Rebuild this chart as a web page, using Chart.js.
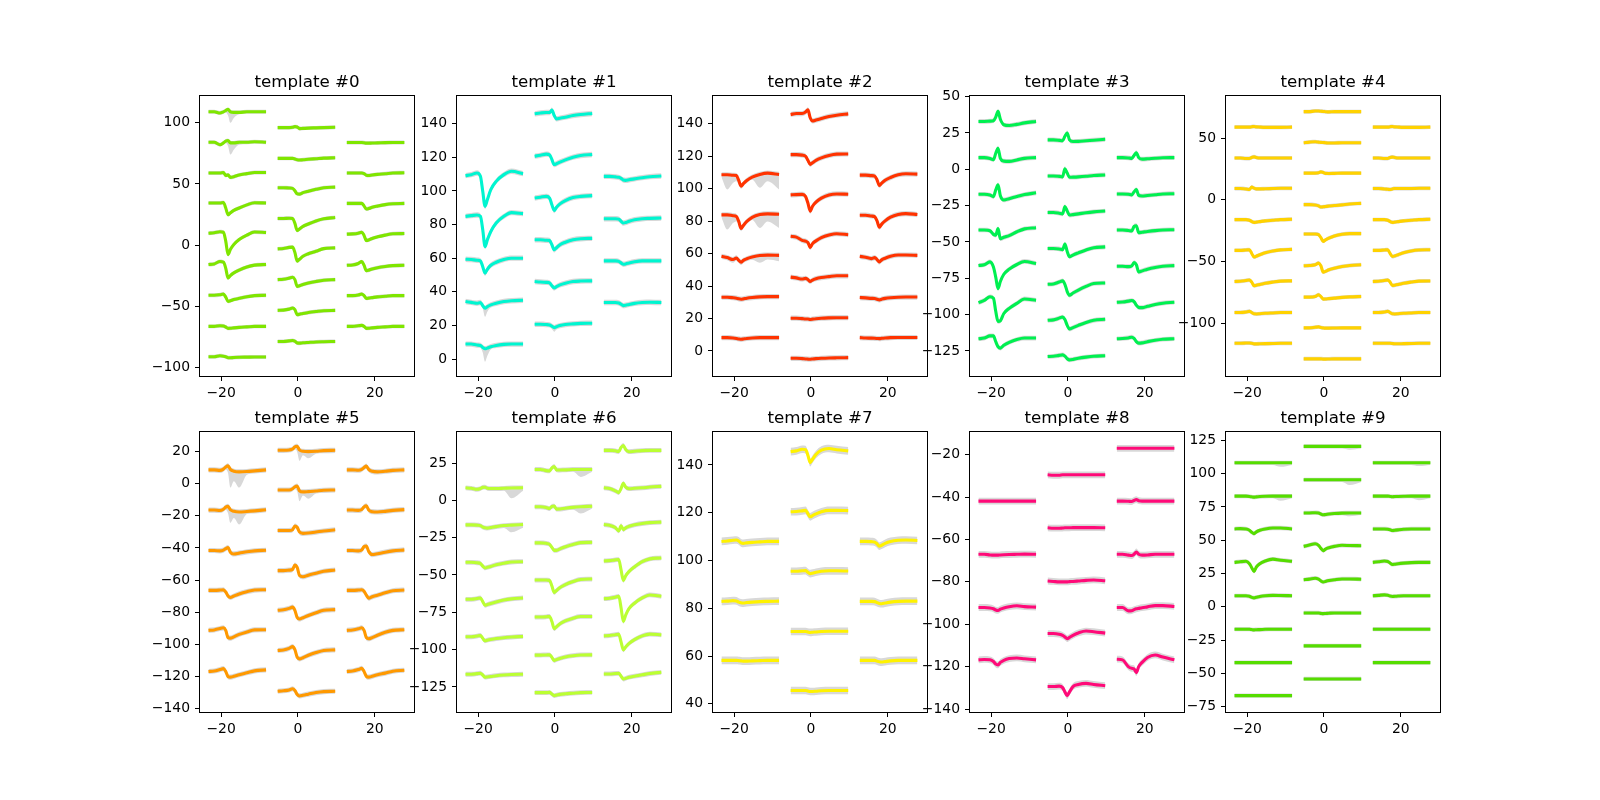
<!DOCTYPE html>
<html><head><meta charset="utf-8">
<script src="https://cdn.jsdelivr.net/npm/chart.js@4.4.0/dist/chart.umd.min.js"></script>
<style>
html,body{margin:0;padding:0;background:#fff;width:1600px;height:800px;overflow:hidden}
body{position:relative}
canvas{position:absolute}
</style></head><body>
<script>
// ---- data ----
const GRID = [0,1.5,3,3.9,4.5,5.1,5.7,6.6,8,10,12,15];   // sample offsets within one waveform
const COL_X0 = [-23.3,-5.3,12.7];                         // x of first sample for each electrode column
const TITLES = ['template #0','template #1','template #2','template #3','template #4','template #5','template #6','template #7','template #8','template #9'];
const COLORS = ['#7fe600','#00f5d0','#ff3300','#00f050','#ffd200','#ff9900','#bbff33','#fff200','#ff0a78','#55dd00'];
const X_TICKS = [-20,0,20];
const X_LIMITS = [-25.5,30.2];
const Y_TICKS = [
  [-100,-50,0,50,100],
  [0,20,40,60,80,100,120,140],
  [0,20,40,60,80,100,120,140],
  [-125,-100,-75,-50,-25,0,25,50],
  [-100,-50,0,50],
  [-140,-120,-100,-80,-60,-40,-20,0,20],
  [-125,-100,-75,-50,-25,0,25],
  [40,60,80,100,120,140],
  [-140,-120,-100,-80,-60,-40,-20],
  [-75,-50,-25,0,25,50,75,100,125]
];
const Y_LIMITS = [[-106.8,121.8],[-10.1,156.5],[-15.4,157],[-142.2,50.4],[-142.8,84.1],[-142.1,32.2],[-141.8,45.8],[36.6,153.8],[-141.4,-9.3],[-79,131.3]];

// each channel: [column, baseline, deviations at GRID, optional extra lower envelope of the grey spread]
const T0 = [
[0,108.9,[0,0,-1,0,1,2,0,-0.5,-0.5,0,0,0],[0,0,0,0,0,-3,-9,-5,-2,0,0,0]],
[0,84.0,[0,0,-2,-0.5,1,1.5,-0.5,-0.5,0,0,0.5,0],[0,0,0,0,0,-3,-10,-6,-2,0,0,0]],
[0,58.9,[0,0,0,0.5,-2,-1.5,-3.5,-3,-1.5,-0.5,0.5,0.5]],
[0,34.4,[0,0,0,0.5,-4,-9.5,-8,-6,-4,-1.5,0.3,0]],
[0,9.8,[0,0.3,1.2,0.8,-6.5,-17.5,-13.4,-9.3,-5.2,-1.6,1,0.5]],
[0,-15.8,[0,0.5,2.5,2,-3,-11,-9,-6.8,-4.5,-2,-0.5,0]],
[0,-40.9,[0,0,0.5,1,-1.5,-5,-4.5,-3.5,-2.5,-1.2,-0.3,0]],
[0,-66.3,[0,0,0.5,0.3,-0.5,-1.6,-1.5,-1.2,-0.8,-0.4,0,0]],
[0,-91.1,[0,0,0.8,0.5,0,-0.8,-0.8,-0.6,-0.4,-0.3,-0.2,-0.2]],
[1,96.0,[0,0,0,0.3,0.8,0.5,-0.8,-0.6,-0.4,-0.2,0,0.3]],
[1,70.9,[0,0,0,0,-0.5,-1.2,-1.4,-1.2,-0.8,-0.3,0.2,0.5]],
[1,46.9,[0,0,-0.2,-0.5,-2.5,-5,-5.2,-4,-2.8,-1.3,0,0.5]],
[1,21.8,[0,0,0.2,0,-4,-9.8,-8.5,-6.5,-4.5,-2,-0.3,0.8]],
[1,-3.0,[0,0.3,1.2,1.4,-3,-10,-8.5,-6,-4,-2,0.2,0.8]],
[1,-28.1,[0,0.3,1.2,1.9,0,-5.5,-5,-4,-2.8,-1.5,-0.5,0]],
[1,-53.2,[0,0.2,1,1.9,0.5,-3.5,-3.2,-2.5,-1.8,-1,-0.3,0]],
[1,-78.6,[0,0,0.5,0.8,0.2,-1.2,-1.4,-1.1,-0.8,-0.4,-0.2,0]],
[2,83.8,[0,0,0,0,-0.2,-0.5,-0.5,-0.4,-0.3,-0.1,0,0]],
[2,58.9,[0,0,0,0,-0.5,-1.8,-2,-1.6,-1.1,-0.6,0,0.2]],
[2,34.1,[0,0,0,0,-2,-4.6,-4.2,-3.2,-2.2,-1,-0.3,0]],
[2,9.0,[0,0.2,0.8,1.6,-1,-5.2,-4.8,-3.5,-2.2,-0.8,0.3,0.5]],
[2,-16.4,[0,0.3,1.5,3,0,-4.4,-4,-3,-2,-1,-0.3,0]],
[2,-41.2,[0,0,0.5,1.4,0,-2.2,-2,-1.6,-1,-0.5,0,0]],
[2,-66.3,[0,0,0.5,0.8,0,-1.6,-1.5,-1.2,-0.8,-0.4,0,0]]
];
const T1 = [
[0,109.1,[0,0.6,1.6,-0.4,-9.3,-18.3,-14.3,-8.3,-3.4,0.6,2.6,1.2]],
[0,84.9,[0,0.4,0.8,0,-8,-18,-14,-9,-4,0,2.2,1.6]],
[0,59.4,[0,-0.2,-0.6,-1,-4.5,-8.3,-6,-3.6,-1.8,-0.2,0.6,0.6]],
[0,34.2,[0,-0.5,-1,-0.6,-2.5,-4,-3,-2,-1,0,0.5,0.8],[0,0,0,0,-3,-9,-6,-3,0,0,0,0]],
[0,8.9,[0,0,-0.6,-0.8,-2,-2.8,-2.4,-1.6,-0.8,-0.2,0,0],[0,0,0,0,-5,-10.5,-7,-3,0,0,0,0]],
[1,145.9,[0,0.5,0.8,0.8,2.2,-1,-3,-2.6,-2,-1,-0.4,0.2]],
[1,120.7,[0,0.5,1.2,0.8,-2,-5,-4.5,-3.5,-2.2,-0.6,0.4,1]],
[1,95.8,[0,0.5,1,0,-4,-7.4,-5.5,-3.5,-1.5,0.3,1,1.4]],
[1,71.0,[0,0,-0.3,-0.5,-3,-6,-4.8,-3,-1.5,0,0.6,0.8]],
[1,46.1,[0,-0.3,-0.5,-0.8,-2.5,-3.8,-3,-2,-1,0,0.3,0.4]],
[1,20.7,[0,0,-0.2,-0.4,-1.2,-2,-1.5,-0.8,-0.2,0.2,0.5,0.6],[0,0,0,0,-2,-4.4,-3,0,0,0,0,0]],
[2,108.7,[0,0,-0.3,-0.6,-1.2,-2.2,-2.4,-2,-1.5,-0.8,-0.2,0.2]],
[2,83.5,[0,0,0,-0.3,-1.5,-2.6,-2.3,-1.5,-0.6,0,0.2,0.4]],
[2,58.4,[0,0,0,-0.3,-1.2,-2,-1.8,-1.2,-0.5,0,0,0]],
[2,33.6,[0,0,0,-0.3,-1,-1.8,-1.6,-1.1,-0.5,0,0.2,0]]
];
const T2 = [
[0,108.5,[0,0,-0.3,-0.5,-3.5,-7,-5.5,-3.5,-1.5,0.2,1,0.2],[-1,-9,-5,-4,-6,-8,-6,-4,-3,-8,-4,-9]],
[0,83.8,[0,0,-0.5,-1,-4,-8.4,-6.5,-4,-1.5,0.2,0.6,0.4],[-1,-9,-5,-4,-6,-9,-7,-4,-3,-8,-4,-8]],
[0,58.3,[0,-0.8,-2,-1,-2.5,-3.7,-2.5,-1.5,-0.5,0.5,0.7,0.6],[0,-2,-4,-2,-3,-4.5,-3,-2,-2,-4,-2,-3]],
[0,33.1,[0,0,-0.3,-0.6,-1,-1.2,-1,-0.6,-0.2,0.2,0.4,0.4]],
[0,8.2,[0,0,-0.2,-0.5,-0.8,-1,-0.8,-0.5,-0.2,0,0,0]],
[1,145.6,[0,0.6,0.6,1.5,2.9,-2,-4,-3.4,-2.5,-1.2,-0.4,0.4]],
[1,120.9,[0,0,-0.3,-1,-3.5,-6,-5,-3.5,-2,-0.5,0.3,0.4]],
[1,96.1,[0,0.2,0.3,-1,-5,-10,-7,-4.5,-2,0,0.6,0.4]],
[1,70.6,[0,-0.5,-2.5,-3,-3.8,-6.8,-4.5,-2.8,-0.8,0.8,1.6,1]],
[1,45.5,[0,-0.5,-1.2,-0.8,-1.5,-2.7,-1.8,-1,-0.3,0.3,0.8,0.8]],
[1,20.2,[0,0,-0.3,-0.5,-0.5,-0.8,-0.6,-0.3,0,0.2,0.3,0.3]],
[1,-4.5,[0,0,-0.2,-0.4,-0.5,-0.6,-0.4,-0.2,0,0.2,0.3,0.4]],
[2,108.3,[0,0,-0.3,-0.6,-3,-6.4,-5,-3.2,-1.5,0.2,0.8,0.6]],
[2,83.6,[0,0,-0.5,-1,-3.5,-7.4,-5.5,-3.5,-1.2,0.5,1,0.4]],
[2,58.3,[0,-0.6,-1.4,-0.8,-2,-3.5,-2.2,-1.2,0,0.8,0.8,0.6]],
[2,32.9,[0,-0.2,-0.5,-0.6,-1,-1.4,-1,-0.5,-0.1,0.2,0.3,0.3]],
[2,8.2,[0,-0.2,-0.3,-0.4,-0.5,-0.6,-0.4,-0.2,0,0.1,0.1,0.1]]
];
const T3 = [
[0,32.9,[0,0,0.2,0.5,3,6.9,1.5,-2.3,-2.8,-2,-1,0]],
[0,8.0,[0,0,-0.6,-1.4,3,6.5,-0.5,-2.4,-2.6,-1.6,-0.5,0]],
[0,-17.2,[0,0,-0.5,-1.6,3,6.5,-1,-3.9,-3,-1.5,-0.2,1]],
[0,-41.8,[0,0,-0.5,-3,-3.5,1,-6,-5,-3.8,-1.2,0.8,1.6]],
[0,-66.2,[0,0.5,2.5,-1,-8,-15.9,-11,-6,-2.5,0.7,2.8,1.4]],
[0,-91.7,[0,1.5,4,3,-6,-13,-12.5,-7.5,-4,-0.5,2.5,1.6]],
[0,-116.6,[0,0.5,2,2,-2,-5.5,-6.4,-4.5,-2.5,-0.5,0.5,0.5]],
[1,20.2,[0,0,-0.3,-0.6,2.5,4.8,0,-1.1,-1,-0.6,-0.2,0.4]],
[1,-4.6,[0,0,-0.3,-0.6,5,2,-0.9,-0.8,-0.6,-0.2,0.3,0.7]],
[1,-29.7,[0,0,-0.5,-1,4,1,-1.8,-1.5,-1,-0.2,0.4,1]],
[1,-54.5,[0,0,-0.3,-0.8,3,-2,-5.7,-4.5,-3,-1,0.5,1.1]],
[1,-79.1,[0,0.2,1.5,2.3,0,-5,-7.6,-6,-4,-1.5,0.5,0.9]],
[1,-103.9,[0,0.3,1.5,2.3,0.5,-3.5,-6,-5,-3.5,-1.5,0,0.7]],
[1,-128.8,[0,0.2,0.8,1.1,0.3,-1.5,-2.3,-2,-1.2,-0.4,0.2,0.5]],
[2,8.0,[0,0,-0.2,-0.5,1.5,3.4,0,-1,-0.8,-0.4,-0.1,0]],
[2,-17.0,[0,0,-0.2,-0.6,1.5,3,-1,-1.4,-1,-0.5,0,0.2]],
[2,-41.8,[0,0,-0.3,-0.6,2.5,3,-1.8,-1.5,-1,-0.4,0,0.2]],
[2,-66.7,[0,0,-0.3,0.2,2.5,1,-3.9,-3.2,-2,-0.8,0,0.4]],
[2,-91.5,[0,0.2,0.8,1.2,0.5,-2,-3.5,-3.7,-2.8,-1.5,-0.6,0]],
[2,-116.6,[0,0.2,0.6,1.1,0.3,-2,-3,-2.8,-2,-1,-0.3,0]]
];
const T4 = [
[0,58.9,[0,0,0,0,0.3,0.5,0.2,0,-0.2,-0.2,-0.2,0]],
[0,33.8,[0,0,-0.3,-0.3,0.5,1,0.5,0,0,0,0,0]],
[0,9.1,[0,0,-0.3,-0.8,1.2,0.3,-0.3,-0.3,-0.2,0,0.2,0.2]],
[0,-16.1,[0,0,0,-0.5,-1.5,-2.2,-2,-1.6,-1,-0.5,0,0.3]],
[0,-41.0,[0,0,0.3,0.5,-2.5,-5.4,-4.7,-3.6,-2,-0.5,0.4,0.8]],
[0,-66.2,[0,0.2,0.8,1.2,-0.5,-3.5,-3,-2.5,-1.5,-0.5,0.3,0.5]],
[0,-91.4,[0,0,0.5,1,0,-1,-1.1,-0.9,-0.6,-0.3,0,0]],
[0,-116.3,[0,0,0.2,0.3,0,-0.5,-0.5,-0.4,-0.3,-0.2,0,0]],
[1,71.4,[0,0,0.5,0.5,0.3,0.2,0,-0.2,0,0,0,0]],
[1,46.2,[0,0.5,0.8,0.5,0.3,0.2,0,-0.2,-0.2,0,0,0]],
[1,21.6,[0,0,0,0.3,1,0.5,-0.2,-0.3,-0.2,0,0,0]],
[1,-3.9,[0,0,-0.3,-1,-2,-1.8,-1.5,-1.2,-0.8,-0.2,0.5,1]],
[1,-27.7,[0,0,0,-0.5,-3,-6,-4.8,-3.3,-1.6,-0.2,0.3,0.3]],
[1,-53.5,[0,0.2,0.8,2.2,0,-5.1,-4.5,-3.2,-2,-0.6,0.3,0.8]],
[1,-78.9,[0,0,0.5,1.9,0.5,-1.6,-1.5,-1.2,-0.8,-0.2,0.2,0.5]],
[1,-103.8,[0,0,0.5,0.8,0.3,0,-0.2,-0.2,-0.1,0,0,0]],
[1,-128.9,[0,0,0,0,0,-0.2,-0.2,-0.1,0,0,0,0]],
[2,58.9,[0,0,0,0,0.3,0.5,0.2,0,-0.2,-0.2,-0.2,0]],
[2,33.8,[0,0,-0.3,-0.3,0.5,0.8,0.5,0,0,0,0,0]],
[2,9.1,[0,0,-0.3,-0.6,-0.8,-0.3,0,0,0,0,0.2,0.2]],
[2,-16.1,[0,0,0,-0.5,-1.5,-2.2,-2,-1.6,-1,-0.5,0,0.3]],
[2,-41.0,[0,0,0.3,0.5,-2.5,-5,-4.5,-3.5,-2,-0.5,0.3,0.5]],
[2,-66.2,[0,0.2,0.8,1.2,-0.5,-3.2,-3,-2.5,-1.5,-0.5,0.3,0.4]],
[2,-91.4,[0,0,0.5,1,0,-1,-1.1,-0.9,-0.6,-0.3,0,0]],
[2,-116.3,[0,0,0,0,0,-0.2,-0.4,-0.4,-0.3,-0.2,0,0]]
];
const T5 = [
[0,8.6,[0,0,-0.3,0.5,1.8,2.6,0.3,-0.8,-1.2,-1,-0.6,0],[0,0,0,0,0,-2,-11,-7,-11,-3,0,0]],
[0,-16.4,[0,0,-0.3,0.5,1.8,2.3,0.2,-0.8,-1.2,-0.9,-0.5,0.2],[0,0,0,0,0,-2,-8,-5,-9,-2,0,0]],
[0,-41.6,[0,0,-0.2,0.3,1.2,1.8,-1,-2.1,-1.6,-0.8,-0.2,0.2]],
[0,-66.4,[0,0,0.2,0.4,-1,-3.5,-4.4,-3.5,-2.2,-0.8,0.2,0.4]],
[0,-91.3,[0,0.3,1.2,1.6,0,-4.5,-4.8,-4,-2.5,-1,0.3,0.4]],
[0,-116.9,[0,0.3,1.2,1.8,0,-3.2,-3.5,-3,-2,-0.8,0.4,1]],
[1,20.8,[0,0,0.2,0.8,2.2,2.5,0.2,-0.6,-0.8,-0.6,-0.2,0],[0,0,0,0,0,-1,-6.5,-3,-5,-1,0,0]],
[1,-3.9,[0,0,0,0.8,2,2.5,-0.5,-1.2,-1,-0.6,-0.2,0],[0,0,0,0,0,-1,-7,-3.5,-5.5,-1,0,0]],
[1,-29.1,[0,0,0,0.5,2.8,2,-1,-1.8,-1.6,-1,-0.3,0.4],[0,0,0,0,0,0,-2,-2,-3,-1,0,0]],
[1,-54.1,[0,0,0.3,0.8,3.5,2,-3,-3.8,-2.8,-1.6,-0.4,0.4]],
[1,-78.8,[0,0.3,1.2,2,0,-4.5,-5.4,-4.6,-3.2,-1.5,0,0.4]],
[1,-103.8,[0,0.3,1.3,2.4,0.5,-4.2,-5.2,-4.5,-3,-1.3,0,0.4]],
[1,-129.2,[0,0.3,0.8,1.6,0.5,-2,-2.9,-2.5,-1.8,-0.8,-0.2,0]],
[2,8.6,[0,0,-0.2,0.3,1.5,2.4,0.3,-0.9,-1.2,-0.8,-0.3,0]],
[2,-16.4,[0,0,-0.2,0.3,2,2.7,0,-1,-1.2,-0.8,-0.2,0.3]],
[2,-41.6,[0,0,-0.2,0.3,2.5,2.8,-0.5,-2.5,-2,-1,-0.2,0.4]],
[2,-66.4,[0,0,0.2,0.4,-0.5,-3,-4.8,-4,-3,-1.5,-0.2,0.2]],
[2,-91.3,[0,0.3,1,1.6,0,-4.5,-5.2,-4.5,-3,-1.2,0,0.4]],
[2,-116.9,[0,0.3,1.2,2,0,-3,-3.5,-3,-2,-1,0.2,0.8]]
];
const T6 = [
[0,8.4,[0,-0.3,-1,-0.5,0.3,0.4,-0.3,-0.5,-0.5,-0.3,-0.1,0],[0,0,0,0,0,0,0,0,0,-1,-7,-2]],
[0,-16.4,[0,0,-0.2,-0.5,-1.5,-2,-2.2,-1.8,-1.2,-0.5,-0.2,0.2],[0,0,0,0,0,0,0,0,0,-1,-5,-2]],
[0,-41.5,[0,0,-0.3,-0.8,-2.5,-3.8,-3.4,-2.8,-1.6,-0.6,0.2,0.4]],
[0,-66.3,[0,0,0.5,0.9,-1.5,-4,-3.5,-2.8,-1.8,-0.5,0.3,0.9]],
[0,-91.4,[0,0,0.5,0.9,-1,-2.7,-2.3,-1.8,-1.2,-0.6,-0.2,0.2]],
[0,-116.5,[0,0,0.4,0.7,-0.5,-2,-1.8,-1.5,-1,-0.5,-0.2,0]],
[1,20.7,[0,0,-0.8,-1,1,2,-0.3,-0.4,-0.3,0,0,0],[0,0,0,0,0,0,0,0,0,-1,-5,-1]],
[1,-4.3,[0,0,-0.5,-1.2,0.3,0.5,-1.6,-1.5,-1,-0.4,0,0.4],[0,0,0,0,0,0,0,0,0,-1,-4.5,-1]],
[1,-28.5,[0,0,-0.3,-1,-3,-5,-5,-4,-2.6,-1,0.2,0.4]],
[1,-53.4,[0,0,0,-0.3,-4,-8.3,-7,-5,-3,-1,0.4,0.7]],
[1,-78.2,[0,0,0.2,0.4,-3,-7.8,-6.5,-4.5,-2.6,-0.8,0.4,0.4]],
[1,-103.7,[0,0,0.1,0.2,-1.5,-3.6,-3,-2.2,-1.2,-0.4,0.1,0.2]],
[1,-128.8,[0,0,0,0.2,-1,-2,-1.7,-1.2,-0.8,-0.4,0,0.1]],
[2,33.5,[0,0,-0.3,-0.8,2,3.3,0.5,-0.9,-0.6,-0.2,0,0]],
[2,8.4,[0,-0.5,-2,-3.2,-0.5,3,0.5,-0.6,-0.3,0,0.5,1]],
[2,-16.2,[0,-0.5,-2,-4.3,-0.8,-3.4,-2.2,-1.2,-0.2,0.7,1.3,1.6]],
[2,-40.6,[0,0.2,0.7,0.9,-6,-13,-10,-7,-4,-0.5,1.4,2]],
[2,-65.9,[0,0.3,1,1.6,-6,-15.2,-11,-6.5,-3,0.5,2.5,1.6]],
[2,-90.8,[0,0.2,0.8,1.1,-4,-9.4,-7.5,-5,-2.5,0,1.2,0.7]],
[2,-116.3,[0,0,0.3,0.4,-1.5,-3.4,-3,-2.2,-1.5,-0.6,0.3,1.1]]
];
const T7 = [
[0,108.0,[0,0.2,0.5,0.6,0.2,-0.6,-0.8,-0.6,-0.4,-0.2,0,0]],
[0,82.9,[0,0.1,0.3,0.2,-0.3,-0.6,-0.7,-0.5,-0.3,-0.1,0,0.1]],
[0,58.2,[0,0,0,0,-0.1,-0.2,-0.3,-0.3,-0.2,-0.1,0,0]],
[1,145.6,[0,0.3,1,0.8,-1.5,-4.6,-3.2,-1.2,0.6,1.3,0.8,0.3]],
[1,120.4,[0,0.1,0.4,0.6,-0.8,-2.1,-1.6,-0.9,0,0.6,0.6,0.5]],
[1,95.5,[0,0,0.2,0.3,-0.4,-1,-0.8,-0.4,0,0.2,0.2,0.1]],
[1,70.3,[0,0,0,0,-0.2,-0.4,-0.3,-0.2,0,0.1,0.1,0.1]],
[1,45.6,[0,0,0,0,-0.2,-0.4,-0.4,-0.3,-0.1,0,0,0]],
[2,108.0,[0,0,-0.1,-0.3,-1,-2,-1.6,-0.8,0,0.5,0.6,0.4]],
[2,82.9,[0,0,0,-0.1,-0.5,-0.9,-1,-0.7,-0.3,0,0.1,0.1]],
[2,58.2,[0,0,0,0,-0.3,-0.6,-0.7,-0.5,-0.2,0,0,0]]
];
const T8 = [
[0,-41.9,[0,0,0,0,0,0,0,0,0,0,0,0]],
[0,-67.0,[0,0,-0.3,-0.4,-0.4,-0.4,-0.3,-0.2,-0.1,0,0.1,0]],
[0,-92.1,[0,0,-0.2,-0.6,-1.2,-1.4,-0.8,-0.2,0.4,0.8,0.4,0.2]],
[0,-116.8,[0,0.2,0,-0.8,-2,-2.4,-1.2,-0.2,0.6,0.9,0.5,0]],
[1,-29.5,[0,-0.2,-0.2,0,0,0,0,0,0,0,0,0]],
[1,-54.5,[0,-0.2,-0.2,-0.1,0,0,0,0.1,0.1,0.1,0.1,0]],
[1,-79.6,[0,-0.2,-0.4,-0.4,-0.4,-0.4,-0.3,-0.2,0,0.3,0.5,0.1]],
[1,-104.4,[0,0,-0.3,-0.8,-1.6,-2.4,-1.8,-0.8,0.3,1.2,0.9,0.2]],
[1,-129.4,[0,0,0.2,-0.5,-2.5,-4.3,-2.5,0,1,1.5,1,0.4]],
[2,-17.0,[0,0,0,0,0,0,0,0,0,0,0,0]],
[2,-41.9,[0,0,-0.1,-0.2,0.3,0.7,0.2,0,0,0,0,0]],
[2,-67.0,[0,0,-0.4,-0.6,0,1.1,0,-0.4,-0.3,0,0,0]],
[2,-92.1,[0,0,-1.6,-1.5,-1,-0.6,-0.4,-0.1,0.3,0.9,0.9,0.5]],
[2,-116.5,[0,-0.3,-3.5,-4.3,-4.5,-6.3,-3.5,-1.5,0.8,2,1,-0.3]]
];
const T9 = [
[0,108.2,[0,0,0,0,0,0,0,0,0,0,0,0],[0,0,0,0,0,0,0,0,0,-1,-3,0]],
[0,83.1,[0,0,0,-0.2,-0.5,-0.7,-0.5,-0.3,-0.1,0,0,0],[0,0,0,0,0,0,0,0,0,-1,-3.5,0]],
[0,58.5,[0,0.2,0,-1,-2.5,-3.5,-2.2,-1,0,0.7,0.7,0]],
[0,33.4,[0,0.5,0.8,-1,-4,-6.8,-3.5,-1,1,2.4,1.6,0.8]],
[0,8.3,[0,0,0,-0.4,-1.2,-1.6,-1.2,-0.6,0,0.3,0.2,0]],
[0,-16.8,[0,0,0,0,-0.3,-0.5,-0.4,-0.3,-0.1,0,0,0]],
[0,-41.9,[0,0,0,0,0,0,0,0,0,0,0,0]],
[0,-66.7,[0,0,0,0,0,0,0,0,0,0,0,0]],
[1,120.5,[0,0,0,0,0,0,0,0,0,0,0,0],[0,0,0,0,0,0,0,0,0,-1,-2.5,0]],
[1,95.4,[0,0,0,0,0,0,0,0,0,0,0,0],[0,0,0,0,0,0,0,0,0,-1,-4,0]],
[1,70.5,[0,0,0.2,0,-0.8,-1.4,-1.2,-0.8,-0.4,-0.1,0,0],[0,0,0,0,0,0,0,0,0,-1,-2.5,0]],
[1,45.4,[0,1,2,0.8,-1.5,-3.2,-2,-1,0,0.8,0.6,0.5]],
[1,20.3,[0,0.5,1.2,0.5,-0.8,-1.7,-1.2,-0.6,0,0.6,0.6,0.4]],
[1,-4.6,[0,0,0,0,-0.3,-0.5,-0.4,-0.2,0,0,0,0]],
[1,-29.3,[0,0,0,0,0,0,0,0,0,0,0,0]],
[1,-54.2,[0,0,0,0,0,0,0,0,0,0,0,0]],
[2,108.2,[0,0,0,0,0,0,0,0,0,0,0,0],[0,0,0,0,0,0,0,0,0,-1,-2.5,0]],
[2,83.1,[0,0,0,0,-0.2,-0.4,-0.3,-0.2,-0.1,0,0,0],[0,0,0,0,0,0,0,0,0,-1,-3,0]],
[2,58.5,[0,0,0,-0.2,-0.6,-1.2,-1,-0.7,-0.3,0,0,0]],
[2,33.4,[0,0.5,1,0.7,-0.5,-1.6,-1.4,-1,-0.6,-0.2,0,0]],
[2,8.3,[0,0.3,0.7,0.4,-0.2,-0.5,-0.4,-0.2,0,0,0,0]],
[2,-16.8,[0,0,0,0,0,0,0,0,0,0,0,0]],
[2,-41.9,[0,0,0,0,0,0,0,0,0,0,0,0]]
];
const TEMPLATES = [T0,T1,T2,T3,T4,T5,T6,T7,T8,T9];
const SPREAD = 1.6;

// ---- layout / style ----
const FIG_W = 1600, FIG_H = 800;
const PAD = {l:62, t:40, r:12, b:32};
const AX_W = 0.775*FIG_W/5.8, AX_H = 0.77*FIG_H/2.2;
const GREY = 'rgb(216,216,216)';
const FONT = 'DejaVu Sans';
Chart.defaults.font.family = FONT;
function fmt(v){ return v < 0 ? '\u2212' + Math.abs(v) : String(v); }

TEMPLATES.forEach((chans, i) => {
  const col = i % 5, row = Math.floor(i / 5);
  const pl = Math.round(0.125*FIG_W + col*AX_W*1.2);
  const pt = Math.round(0.12*FIG_H + row*AX_H*1.2);
  const cw = PAD.l + Math.round(AX_W) + PAD.r;
  const ch = PAD.t + Math.round(AX_H) + PAD.b;
  const cv = document.createElement('canvas');
  cv.width = cw; cv.height = ch;
  cv.style.left = (pl - PAD.l) + 'px'; cv.style.top = (pt - PAD.t) + 'px';
  cv.style.width = cw + 'px'; cv.style.height = ch + 'px';
  document.body.appendChild(cv);

  const datasets = [];
  chans.forEach(c => {
    const [ci, base, dev, low] = c;
    const x0 = COL_X0[ci];
    const up = GRID.map((g,k) => ({x: x0+g, y: base + dev[k] + SPREAD}));
    const lo = GRID.map((g,k) => ({x: x0+g, y: base + ((low && low[k]) ? Math.min(dev[k]-SPREAD, low[k]) : dev[k]-SPREAD)}));
    const line = GRID.map((g,k) => ({x: x0+g, y: base + dev[k]}));
    datasets.push({data: up, borderColor:'rgba(0,0,0,0)', borderWidth:1, backgroundColor: GREY, fill:'+1', pointRadius:0, cubicInterpolationMode:'monotone', order:2});
    datasets.push({data: lo, borderColor:'rgba(0,0,0,0)', borderWidth:1, backgroundColor: GREY, fill:false, pointRadius:0, cubicInterpolationMode:'monotone', order:2});
    datasets.push({data: line, borderColor: COLORS[i], borderWidth:3.1, fill:false, pointRadius:0, cubicInterpolationMode:'monotone', borderJoinStyle:'round', order:1});
  });

  const title = TITLES[i];
  const deco = {
    id: 'deco' + i,
    afterDatasetsDraw(chart) {
      const {ctx, chartArea:a} = chart;
      ctx.save();
      ctx.strokeStyle = '#000'; ctx.lineWidth = 1;
      ctx.strokeRect(a.left - 0.5, a.top - 0.5, a.right - a.left + 1, a.bottom - a.top + 1);
      ctx.fillStyle = '#000';
      ctx.font = '16.7px "' + FONT + '"';
      ctx.textAlign = 'center'; ctx.textBaseline = 'alphabetic';
      ctx.fillText(title, (a.left + a.right)/2, a.top - 9);
      ctx.restore();
    }
  };
  const tickFont = {family: FONT, size: 13.9};
  new Chart(cv, {
    type: 'line',
    data: {datasets},
    options: {
      responsive: false, animation: false, events: [],
      layout: {padding: {left:0, top:PAD.t, right:PAD.r, bottom:0}},
      plugins: {legend:{display:false}, tooltip:{enabled:false}, title:{display:false}},
      scales: {
        x: {
          type:'linear', min:X_LIMITS[0], max:X_LIMITS[1],
          afterBuildTicks: s => { s.ticks = X_TICKS.map(v => ({value:v})); },
          afterFit: s => { s.height = PAD.b; },
          grid: {display:true, drawOnChartArea:false, drawTicks:true, tickLength:5, color:'#000', lineWidth:1},
          border: {display:false},
          ticks: {color:'#000', font:tickFont, padding:4, maxRotation:0, autoSkip:false, callback: v => fmt(v)}
        },
        y: {
          type:'linear', min:Y_LIMITS[i][0], max:Y_LIMITS[i][1],
          afterBuildTicks: s => { s.ticks = Y_TICKS[i].map(v => ({value:v})); },
          afterFit: s => { s.width = PAD.l; },
          grid: {display:true, drawOnChartArea:false, drawTicks:true, tickLength:5, color:'#000', lineWidth:1},
          border: {display:false},
          ticks: {color:'#000', font:tickFont, padding:5, autoSkip:false, callback: v => fmt(v)}
        }
      }
    },
    plugins: [deco]
  });
});
</script>
</body></html>
